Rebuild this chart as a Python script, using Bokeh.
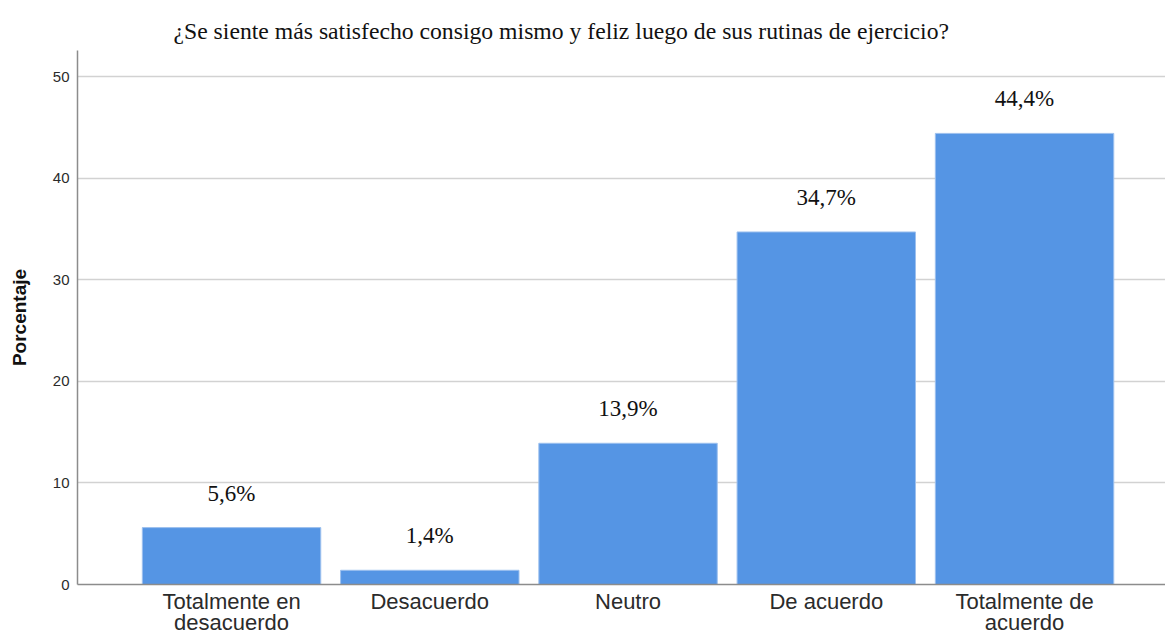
from bokeh.plotting import figure
from bokeh.models import Range1d, FixedTicker, ColumnDataSource, LabelSet, Title
from bokeh.embed import file_html
from bokeh.resources import INLINE

categories = ["Totalmente en\ndesacuerdo", "Desacuerdo", "Neutro", "De acuerdo", "Totalmente de\nacuerdo"]
values = [5.6, 1.4, 13.9, 34.7, 44.4]
y_ticks = [0, 10, 20, 30, 40, 50]
title_text = "¿Se siente más satisfecho consigo mismo y feliz luego de sus rutinas de ejercicio?"

xs = list(range(len(categories)))
labels = [f"{v:.1f}%".replace(".", ",") for v in values]
src = ColumnDataSource(dict(x=xs, top=values, label=labels))

p = figure(width=1165, height=639, output_backend="svg", toolbar_location=None,
           x_range=Range1d(-0.777, 4.711), y_range=Range1d(0, 52.56),
           min_border_left=77, min_border_right=0, min_border_top=50, min_border_bottom=55)
p.title = Title(text=title_text, text_font="Liberation Serif", text_font_size="23.7px",
                text_font_style="normal", text_color="#111111", align="left", offset=96,
                standoff=10, vertical_align="top")

p.vbar(x="x", top="top", width=0.9, bottom=0, source=src,
       fill_color="#5595E4", line_color="#9DC0EE", line_width=1)

p.add_layout(LabelSet(x="x", y="top", text="label", source=src, text_align="center",
                      text_baseline="alphabetic", y_offset=27,
                      text_font="Liberation Serif", text_font_size="23px", text_color="#111111"))

p.outline_line_color = None
p.xgrid.grid_line_color = None
p.ygrid.grid_line_color = "#d2d2d2"
p.ygrid.grid_line_width = 1.5
p.ygrid.ticker = FixedTicker(ticks=y_ticks)

p.xaxis.ticker = FixedTicker(ticks=xs)
p.xaxis.major_label_overrides = {i: c for i, c in enumerate(categories)}
p.xaxis.major_label_text_font = "Liberation Sans"
p.xaxis.major_label_text_font_size = "22px"
p.xaxis.major_label_text_color = "#2b2b2b"
p.xaxis.major_tick_out = 0
p.xaxis.major_label_standoff = 4
p.xaxis.major_label_text_line_height = 0.86

p.yaxis.ticker = FixedTicker(ticks=y_ticks)
p.yaxis.major_label_text_font = "Liberation Sans"
p.yaxis.major_label_text_font_size = "15px"
p.yaxis.major_label_text_color = "#2b2b2b"
p.yaxis.major_tick_out = 0
p.yaxis.major_label_standoff = 8
p.yaxis.axis_label = "Porcentaje"
p.yaxis.axis_label_text_font = "Liberation Sans"
p.yaxis.axis_label_text_font_size = "19px"
p.yaxis.axis_label_text_font_style = "bold"
p.yaxis.axis_label_text_color = "#111111"
p.yaxis.axis_label_standoff = 20

for ax in (p.xaxis, p.yaxis):
    ax.axis_line_color = "#8c8c8c"
    ax.axis_line_width = 1.5
    ax.major_tick_line_color = None
    ax.minor_tick_line_color = None

open("out.html", "w").write(file_html(p, INLINE))
